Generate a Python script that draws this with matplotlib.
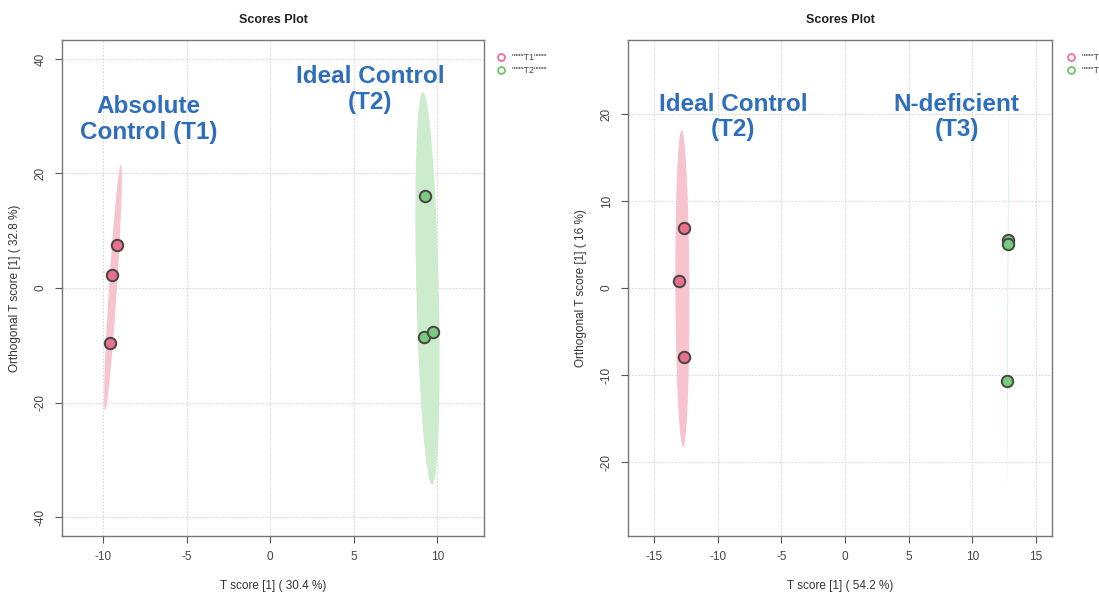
import numpy as np
import matplotlib
matplotlib.use("Agg")
import matplotlib.pyplot as plt

plt.rcParams['font.family'] = ['Liberation Sans', 'DejaVu Sans']
plt.rcParams['axes.unicode_minus'] = False

# ---- data ----
# Left panel: T1 vs T2
left_t1_x = [-9.16, -9.46, -9.58]
left_t1_y = [7.5, 2.3, -9.6]
left_t2_x = [9.28, 9.22, 9.76]
left_t2_y = [16.1, -8.6, -7.7]
left_xticks = [-10, -5, 0, 5, 10]
left_yticks = [-40, -20, 0, 20, 40]
left_labels = ['""""T1""""', '""""T2""""']
left_xlabel = "T score [1] ( 30.4 %)"
left_ylabel = "Orthogonal T score [1] ( 32.8 %)"
left_notes = ["Absolute\nControl (T1)", "Ideal Control\n(T2)"]

# Right panel: T2 vs T3
right_t2_x = [-12.65, -13.04, -12.65]
right_t2_y = [6.9, 0.8, -7.9]
right_t3_x = [12.80, 12.82, 12.76]
right_t3_y = [5.5, 5.1, -10.7]
right_xticks = [-15, -10, -5, 0, 5, 10, 15]
right_yticks = [-20, -10, 0, 10, 20]
right_labels = ['""""T2""""', '""""T3""""']
right_xlabel = "T score [1] ( 54.2 %)"
right_ylabel = "Orthogonal T score [1] ( 16 %)"
right_notes = ["Ideal Control\n(T2)", "N-deficient\n(T3)"]

PINK_FILL = '#f7c3cf'
GREEN_FILL = '#cdebcd'
PINK_PT = '#e8708d'
GREEN_PT = '#7ccb7c'
PINK_LEG = '#f0709a'
GREEN_LEG = '#6cc56c'
BLUE = '#2f6eba'


def conf_ellipse(x, y, n=200):
    x = np.asarray(x, float)
    y = np.asarray(y, float)
    cov = np.cov(x, y)
    vals, vecs = np.linalg.eigh(cov)
    vals = np.clip(vals, 1e-6, None)
    r = np.sqrt(5.991)
    t = np.linspace(0, 2 * np.pi, n)
    circ = np.vstack([np.cos(t), np.sin(t)])
    pts = vecs @ (np.sqrt(vals)[:, None] * circ) * r
    return pts[0] + x.mean(), pts[1] + y.mean()


def panel(ax, g1x, g1y, g2x, g2y, xlim, ylim, xticks, yticks,
          xlabel, ylabel, labels, notes, note_pos, leg_x):
    for gx, gy, fc in [(g1x, g1y, PINK_FILL), (g2x, g2y, GREEN_FILL)]:
        ex, ey = conf_ellipse(gx, gy)
        ax.fill(ex, ey, color=fc, lw=0, zorder=1)
    ax.scatter(g1x, g1y, s=68, c=PINK_PT, edgecolors='#454545',
               linewidths=1.4, zorder=3)
    ax.scatter(g2x, g2y, s=68, c=GREEN_PT, edgecolors='#454545',
               linewidths=1.4, zorder=3)
    ax.set_xlim(*xlim)
    ax.set_ylim(*ylim)
    ax.set_xticks(xticks)
    ax.set_yticks(yticks)
    ax.grid(True, color='#d8d8d8', linestyle=(0, (1.5, 1.5)), lw=0.8)
    ax.set_axisbelow(True)
    for s in ax.spines.values():
        s.set_color('#777777')
        s.set_linewidth(1.0)
    ax.tick_params(axis='both', labelsize=8.5, color='#555555',
                   labelcolor='#444444', length=5, pad=6)
    for lab in ax.get_yticklabels():
        lab.set_rotation(90)
        lab.set_va('center')
    ax.set_xlabel(xlabel, fontsize=8.5, color='#333333', labelpad=12)
    ax.set_ylabel(ylabel, fontsize=8.5, color='#333333', labelpad=10)
    ax.set_title("Scores Plot", fontsize=9, fontweight='bold',
                 color='#222222', pad=12)
    for txt, (px, py) in zip(notes, note_pos):
        ax.text(px, py, txt, transform=ax.transAxes, ha='center',
                va='center', fontsize=17.5, fontweight='bold', color=BLUE,
                linespacing=1.15)
    # legend
    for i, (lab, col) in enumerate(zip(labels, [PINK_LEG, GREEN_LEG])):
        yy = 0.965 - i * 0.026
        ax.plot([leg_x], [yy], 'o', transform=ax.transAxes, mfc='none',
                mec=col, mew=1.3, ms=5, clip_on=False)
        ax.text(leg_x + 0.025, yy, lab, transform=ax.transAxes,
                fontsize=6.5, va='center', color='#444444', clip_on=False)


fig = plt.figure(figsize=(10.99, 5.92), dpi=100)
axL = fig.add_axes([62 / 1099, 56 / 592, 422 / 1099, 496 / 592])
axR = fig.add_axes([628 / 1099, 56 / 592, 424 / 1099, 496 / 592])

panel(axL, left_t1_x, left_t1_y, left_t2_x, left_t2_y,
      (-12.45, 12.8), (-43.3, 43.3), left_xticks, left_yticks,
      left_xlabel, left_ylabel, left_labels, left_notes,
      [(0.205, 0.84), (0.73, 0.90)], 1.04)
panel(axR, right_t2_x, right_t2_y, right_t3_x, right_t3_y,
      (-17.05, 16.26), (-28.5, 28.5), right_xticks, right_yticks,
      right_xlabel, right_ylabel, right_labels, right_notes,
      [(0.248, 0.845), (0.775, 0.845)], 1.045)

fig.savefig("out.png", dpi=100)
